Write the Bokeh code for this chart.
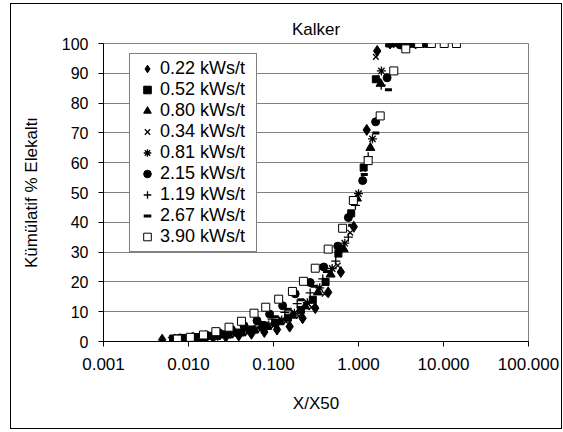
from bokeh.plotting import figure
from bokeh.models import (FixedTicker, CustomJSTickFormatter, Legend, LegendItem)
from bokeh.embed import file_html
from bokeh.resources import INLINE

FONT = "Liberation Sans"

# ---------------- data ----------------
labels = ["0.22 kWs/t", "0.52 kWs/t", "0.80 kWs/t", "0.34 kWs/t", "0.81 kWs/t",
          "2.15 kWs/t", "1.19 kWs/t", "2.67 kWs/t", "3.90 kWs/t"]

x_022 = [0.0049, 0.0069, 0.0097, 0.0138, 0.0195, 0.0275, 0.039, 0.055, 0.078, 0.11, 0.155,
         0.22, 0.31, 0.44, 0.62, 0.88, 1.25, 1.66, 2.35, 3.3, 4.7]
y_022 = [0.6, 0.7, 0.8, 1.0, 1.3, 1.6, 2.0, 2.6, 3.2, 4.0, 5.0,
         7.8, 11.2, 16.5, 23.3, 38.5, 71, 97.5, 100, 100, 100]

x_052 = [0.0066, 0.0093, 0.0132, 0.0187, 0.026, 0.037, 0.053, 0.075, 0.105, 0.148, 0.21,
         0.29, 0.41, 0.58, 0.82, 1.15, 1.6, 2.3, 3.25, 4.6, 6.5]
y_052 = [1.0, 1.2, 1.5, 1.9, 2.4, 3.0, 3.8, 4.8, 6.2, 8.0, 10.6,
         14, 20, 29.5, 43, 58.4, 88, 100, 100, 100, 100]

x_080 = [0.0074, 0.0105, 0.0148, 0.021, 0.0296, 0.042, 0.059, 0.084, 0.118, 0.167, 0.236,
         0.334, 0.47, 0.67, 0.96, 1.38, 1.82, 2.7, 3.8, 5.4]
y_080 = [0.7, 0.9, 1.2, 1.6, 2.1, 2.8, 3.7, 4.9, 6.5, 8.7, 11.8,
         16.5, 22.5, 31, 48, 65, 86.5, 100, 100, 100]

x_034 = [0.0062, 0.0088, 0.0125, 0.0176, 0.025, 0.035, 0.05, 0.07, 0.1, 0.14, 0.2,
         0.28, 0.4, 0.57, 0.8, 1.13, 1.6, 2.26, 3.2, 4.5]
y_034 = [0.6, 0.8, 1.1, 1.4, 1.8, 2.4, 3.1, 4.0, 5.2, 6.7, 8.6,
         11.5, 16, 25.5, 36.5, 58, 95.5, 100, 100, 100]

x_081 = [0.0077, 0.011, 0.0155, 0.022, 0.031, 0.044, 0.062, 0.088, 0.125, 0.176, 0.25,
         0.35, 0.49, 0.69, 1.0, 1.46, 1.86, 2.9, 4.1, 5.8]
y_081 = [0.8, 1.0, 1.4, 1.8, 2.4, 3.2, 4.2, 5.5, 7.2, 9.5, 13,
         18, 24.5, 33, 49.6, 68, 90.8, 100, 100, 100]

x_215 = [0.008, 0.0113, 0.016, 0.0226, 0.032, 0.045, 0.064, 0.09, 0.128, 0.18, 0.27,
         0.39, 0.57, 0.76, 1.12, 1.59, 2.17, 3.1, 4.4, 6.2]
y_215 = [1.2, 1.6, 2.2, 3.0, 4.0, 5.3, 7.0, 9.2, 12.0, 16.0, 19.8,
         25, 32, 41.6, 54, 73.7, 88.5, 99.5, 100, 100]

x_119 = [0.0085, 0.012, 0.017, 0.024, 0.034, 0.048, 0.068, 0.096, 0.136, 0.19, 0.27,
         0.38, 0.54, 0.76, 0.92, 1.3, 1.85, 2.6, 3.7, 5.2]
y_119 = [1.0, 1.3, 1.8, 2.4, 3.2, 4.3, 5.7, 7.5, 9.8, 12.7, 16.3,
         21, 27, 35, 45.7, 62, 86, 100, 100, 100]

x_267 = [0.0093, 0.013, 0.0186, 0.026, 0.037, 0.053, 0.074, 0.105, 0.149, 0.21, 0.3,
         0.42, 0.59, 0.83, 1.17, 1.6, 2.25, 3.2, 4.5]
y_267 = [1.1, 1.5, 2.1, 2.8, 3.7, 4.9, 6.4, 8.3, 10.8, 14, 18.5,
         23.5, 30, 39, 56, 70, 84.5, 100, 100]

x_390 = [0.0074, 0.0105, 0.015, 0.021, 0.030, 0.042, 0.059, 0.081, 0.115, 0.167, 0.225,
         0.31, 0.44, 0.65, 0.87, 1.3, 1.8, 2.6, 3.6, 5.1, 7.2, 10.2, 14.2]
y_390 = [0.8, 1.4, 2.2, 3.3, 4.8, 6.8, 9.5, 11.5, 14.2, 16.8, 20.2,
         24.6, 31, 38, 47.3, 60.7, 75.7, 90.8, 98.2, 100, 100, 100, 100]

x_ticks = [0.001, 0.01, 0.1, 1, 10, 100]
y_ticks = [0, 10, 20, 30, 40, 50, 60, 70, 80, 90, 100]

# chart-area border painted as CSS background lines behind a transparent canvas
g = "linear-gradient(#000,#000)"
chart_border_css = {
    "background-color": "white",
    "background-image": ", ".join([g] * 4),
    "background-size": "552px 1px, 552px 1px, 1px 426px, 1px 426px",
    "background-position": "10px 3px, 10px 428px, 10px 3px, 561px 3px",
    "background-repeat": "no-repeat",
}

# ---------------- figure ----------------
p = figure(width=563, height=432, x_axis_type="log",
           x_range=(0.001, 100), y_range=(0, 100),
           output_backend="svg", toolbar_location=None,
           min_border_left=103, min_border_right=35,
           min_border_top=43, min_border_bottom=91,
           styles=chart_border_css,
           background_fill_color="white", border_fill_alpha=0)

p.outline_line_color = "#808080"
p.outline_line_width = 1

p.title.text = "Kalker"
p.title.align = "center"
p.title.offset = -29
p.title.standoff = 9
p.title.text_font = FONT
p.title.text_font_size = "17px"
p.title.text_font_style = "normal"
p.title.text_color = "black"

p.xgrid.visible = False
p.ygrid.ticker = FixedTicker(ticks=y_ticks)
p.ygrid.grid_line_color = "#808080"
p.ygrid.grid_line_width = 1

p.xaxis.ticker = FixedTicker(ticks=x_ticks, minor_ticks=[])
p.xaxis.formatter = CustomJSTickFormatter(code="return tick.toFixed(3);")
p.yaxis.ticker = FixedTicker(ticks=y_ticks, minor_ticks=[])

for ax in (p.xaxis[0], p.yaxis[0]):
    ax.axis_line_color = "black"
    ax.axis_line_width = 1
    ax.major_tick_in = 0
    ax.major_tick_out = 5
    ax.major_tick_line_color = "black"
    ax.minor_tick_line_color = None
    ax.major_label_text_font = FONT
    ax.major_label_text_color = "black"
    ax.axis_label_text_font = FONT
    ax.axis_label_text_font_size = "17px"
    ax.axis_label_text_font_style = "normal"
    ax.axis_label_text_color = "black"

p.xaxis.major_label_text_font_size = "17px"
p.yaxis.major_label_text_font_size = "16px"
p.xaxis.axis_label = "X/X50"
p.xaxis.major_label_standoff = 11
p.xaxis.axis_label_standoff = 21
p.yaxis.axis_label = "Kümülatif % Elekaltı"
p.yaxis.major_label_standoff = 10
p.yaxis.axis_label_standoff = 18

# ---------------- series ----------------
specs = [
    (x_022, y_022, dict(marker="diamond", size=11, fill_color="black", line_color="black")),
    (x_052, y_052, dict(marker="square", size=7, fill_color="black", line_color="black")),
    (x_080, y_080, dict(marker="triangle", size=9, fill_color="black", line_color="black")),
    (x_034, y_034, dict(marker="x", size=8, line_color="black", line_width=1.3)),
    (x_081, y_081, dict(marker="asterisk", size=9, line_color="black", line_width=1.3)),
    (x_215, y_215, dict(marker="circle", size=8, fill_color="black", line_color="black")),
    (x_119, y_119, dict(marker="cross", size=9, line_color="black", line_width=1.3)),
    (x_267, y_267, dict(marker="dash", size=7, line_color="black", line_width=3)),
    (x_390, y_390, dict(marker="square", size=8, fill_color="white", line_color="black", line_width=1)),
]

items = []
for (xs, ys, kw), lab in zip(specs, labels):
    r = p.scatter(xs, ys, **kw)
    items.append(LegendItem(label=lab, renderers=[r]))

legend = Legend(items=items, location=(26, 89),
                border_line_color="black", border_line_width=1,
                background_fill_color="white", background_fill_alpha=1,
                label_text_font=FONT, label_text_font_size="18px",
                label_text_color="black",
                glyph_width=26, glyph_height=19, label_height=19,
                label_width=92, label_standoff=0, spacing=-1, padding=4, margin=0)
p.add_layout(legend)

open("out.html", "w").write(file_html(p, INLINE))
